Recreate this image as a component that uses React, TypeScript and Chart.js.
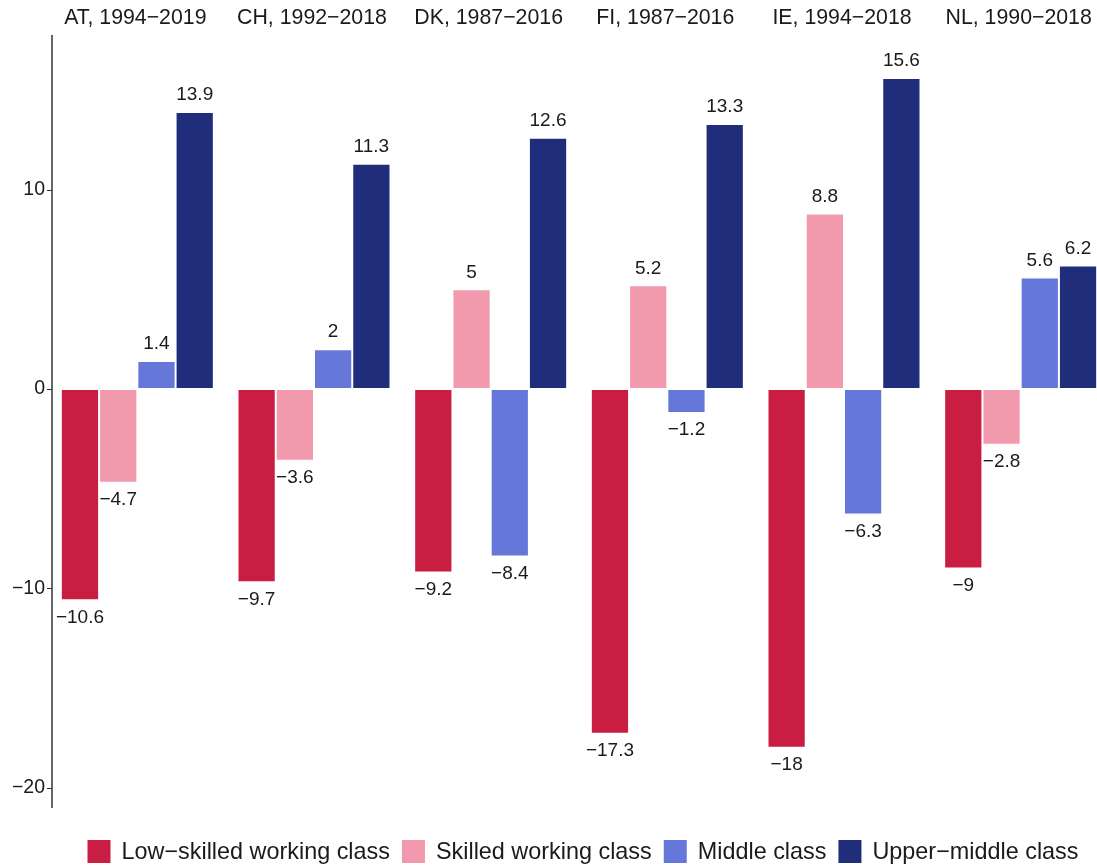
import React, { useEffect, useRef } from "react";
import { Chart, registerables } from "chart.js";
Chart.register(...registerables);

const categories = ["AT, 1994−2019", "CH, 1992−2018", "DK, 1987−2016", "FI, 1987−2016", "IE, 1994−2018", "NL, 1990−2018"];
const seriesNames = ["Low−skilled working class", "Skilled working class", "Middle class", "Upper−middle class"];
const lowSkilled = [-10.6, -9.7, -9.2, -17.3, -18, -9];
const skilled = [-4.7, -3.6, 5, 5.2, 8.8, -2.8];
const middle = [1.4, 2, -8.4, -1.2, -6.3, 5.6];
const upperMiddle = [13.9, 11.3, 12.6, 13.3, 15.6, 6.2];
const colors = ["#C91E42", "#F29AAD", "#6677DA", "#1F2D7A"];
const tickValues = [-20, -10, 0, 10];

const FONT = "'Liberation Sans', Arial, Helvetica, sans-serif";
const TEXT = "#1a1a1a";

const fmt = (v: number) => (v < 0 ? "\u2212" + String(Math.abs(v)) : String(v));

const W = 1112;
const H = 866;

export default function App() {
  const ref = useRef<HTMLCanvasElement | null>(null);
  useEffect(() => {
    const canvas = ref.current!;
    const overlay = {
      id: "overlay",
      afterDatasetsDraw(chart: any) {
        const ctx = chart.ctx;
        const x = chart.scales.x;
        const y = chart.scales.y;
        ctx.save();
        // value labels
        ctx.font = `19px ${FONT}`;
        ctx.fillStyle = TEXT;
        ctx.textAlign = "center";
        ctx.textBaseline = "middle";
        chart.data.datasets.forEach((ds: any, di: number) => {
          const meta = chart.getDatasetMeta(di);
          meta.data.forEach((el: any, i: number) => {
            const v = ds.data[i];
            const yy = v >= 0 ? Math.min(el.y, el.base) - 17 : Math.max(el.y, el.base) + 17;
            ctx.fillText(fmt(v), el.x, yy);
          });
        });
        // facet titles
        ctx.font = `21.3px ${FONT}`;
        categories.forEach((c, i) => {
          ctx.fillText(c, x.getPixelForValue(i) - 2, 18.5);
        });
        // y axis line and ticks
        const ax = 52;
        ctx.strokeStyle = "#333333";
        ctx.lineWidth = 1.5;
        ctx.beginPath();
        ctx.moveTo(ax, chart.chartArea.top);
        ctx.lineTo(ax, chart.chartArea.bottom);
        ctx.stroke();
        ctx.lineWidth = 1;
        tickValues.forEach((t) => {
          const py = Math.round(y.getPixelForValue(t)) + 0.5;
          ctx.beginPath();
          ctx.moveTo(ax - 5, py);
          ctx.lineTo(ax, py);
          ctx.stroke();
        });
        // legend
        ctx.font = `23.4px ${FONT}`;
        ctx.textAlign = "left";
        const box = 23, gap = 11, itemGap = 12;
        const widths = seriesNames.map((n) => ctx.measureText(n).width);
        const total = widths.reduce((a, b) => a + b, 0) + seriesNames.length * (box + gap) + (seriesNames.length - 1) * itemGap;
        let lx = 583 - total / 2;
        const ly = 851.5;
        seriesNames.forEach((n, i) => {
          ctx.fillStyle = colors[i];
          ctx.fillRect(lx, ly - box / 2, box, box);
          ctx.fillStyle = TEXT;
          ctx.fillText(n, lx + box + gap, ly + 1);
          lx += box + gap + widths[i] + itemGap;
        });
        ctx.restore();
      },
    };
    const mk = (label: string, data: number[], color: string) => ({
      label,
      data,
      backgroundColor: color,
      borderColor: "rgba(255,255,255,0.85)",
      borderWidth: 1,
      borderSkipped: false,
      barPercentage: 1,
      categoryPercentage: 0.866,
    });
    const chart = new Chart(canvas, {
      type: "bar",
      data: {
        labels: categories,
        datasets: [
          mk(seriesNames[0], lowSkilled, colors[0]),
          mk(seriesNames[1], skilled, colors[1]),
          mk(seriesNames[2], middle, colors[2]),
          mk(seriesNames[3], upperMiddle, colors[3]),
        ],
      },
      options: {
        responsive: false,
        animation: false,
        devicePixelRatio: 1,
        layout: { padding: { top: 35, bottom: 58, left: 0, right: 3 } },
        plugins: { legend: { display: false }, tooltip: { enabled: false } },
        scales: {
          x: { display: false },
          y: {
            min: -21.02,
            max: 17.76,
            border: { display: false },
            grid: { display: false, drawTicks: false },
            afterFit: (s: any) => {
              s.width = 49;
            },
            afterBuildTicks: (s: any) => {
              s.ticks = tickValues.map((v) => ({ value: v }));
            },
            ticks: {
              padding: 4,
              color: TEXT,
              font: { family: FONT, size: 19.5 },
              callback: (v: any) => fmt(Number(v)),
            },
          },
        },
      },
      plugins: [overlay],
    });
    return () => chart.destroy();
  }, []);
  return (
    <div style={{ position: "fixed", left: 0, top: 0, width: 1097, height: 866, overflow: "hidden", background: "#fff" }}>
      <canvas ref={ref} width={W} height={H} style={{ display: "block", width: W, height: H }} />
    </div>
  );
}
